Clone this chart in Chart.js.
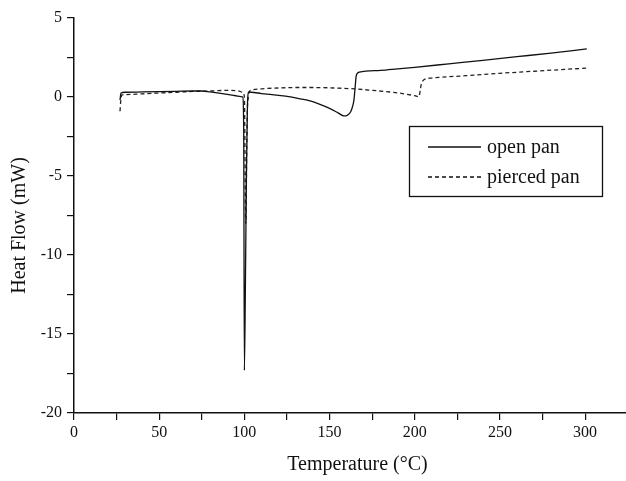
<!DOCTYPE html>
<html>
<head>
<meta charset="utf-8">
<script src="https://cdn.jsdelivr.net/npm/chart.js@4.4.1/dist/chart.umd.min.js"></script>
<style>
  html, body { margin: 0; padding: 0; background: #fff; }
</style>
</head>
<body>
<canvas id="dscChart" width="626" height="481"></canvas>
<script>
// DSC traces (temperature in degC, heat flow in mW)
const seriesNames = ['open pan', 'pierced pan'];

const openTemp = [27, 27.6, 30, 40, 50, 60, 70, 75, 80, 85, 90, 95, 98, 99.0, 99.6, 100.0,
  100.6, 101.2, 101.8, 102.6, 104, 110, 120, 126, 132, 138, 144, 150, 155, 158.5, 160.5,
  162.4, 163.5, 164.3, 165.0, 165.6, 166.3, 167.5, 180, 190, 200, 220, 240, 260, 280, 301];
const openFlow = [-0.2, 0.25, 0.3, 0.32, 0.34, 0.36, 0.38, 0.38, 0.32, 0.25, 0.17, 0.08, 0.03, 0.0, -2.0, -17.3,
  -12, -5, -0.5, 0.3, 0.3, 0.22, 0.1, 0.02, -0.1, -0.23, -0.45, -0.72, -1.0, -1.2, -1.15,
  -0.93, -0.6, -0.2, 0.6, 1.3, 1.5, 1.57, 1.68, 1.78, 1.88, 2.1, 2.32, 2.55, 2.78, 3.04];

const piercedTemp = [27, 27.4, 28, 30, 40, 50, 60, 70, 80, 90, 96, 99, 100, 100.8, 101.6, 102.4,
  103, 104.5, 108.6, 120, 130, 140, 150, 165, 175, 188.7, 195, 200, 202.5, 203.2, 203.8,
  205, 206.4, 210, 230, 250, 270, 290, 301];
const piercedFlow = [-0.9, -0.3, 0.12, 0.15, 0.2, 0.25, 0.3, 0.35, 0.38, 0.42, 0.4, 0.3, 0.0, -8, -1.5, 0.1,
  0.35, 0.45, 0.51, 0.57, 0.6, 0.6, 0.58, 0.51, 0.42, 0.28, 0.18, 0.08, 0.02, 0.4, 0.8,
  1.05, 1.15, 1.2, 1.35, 1.5, 1.63, 1.76, 1.83];

const xTickLabels = [0, 50, 100, 150, 200, 250, 300];
const yTickLabels = [5, 0, -5, -10, -15, -20];

const SERIF = '"Liberation Serif", "Times New Roman", serif';

function toPoints(xs, ys) {
  return xs.map((x, i) => ({ x: x, y: ys[i] }));
}

// boxed legend inside the plot, like the original figure
const boxLegend = {
  id: 'boxLegend',
  afterDraw(chart) {
    const ctx = chart.ctx;
    ctx.save();
    ctx.strokeStyle = '#111';
    ctx.lineWidth = 1.3;
    ctx.strokeRect(409.5, 126.5, 193, 70);
    ctx.font = '20px ' + SERIF;
    ctx.fillStyle = '#111';
    ctx.textBaseline = 'middle';
    chart.data.datasets.forEach((ds, i) => {
      const y = 147 + i * 30;
      ctx.beginPath();
      ctx.setLineDash(ds.borderDash || []);
      ctx.lineWidth = ds.borderWidth;
      ctx.moveTo(428, y);
      ctx.lineTo(481, y);
      ctx.stroke();
      ctx.setLineDash([]);
      ctx.fillText(ds.label, 487, y + 1);
    });
    ctx.restore();
  }
};

new Chart(document.getElementById('dscChart'), {
  type: 'line',
  data: {
    datasets: [{
      label: seriesNames[0],
      data: toPoints(openTemp, openFlow),
      borderColor: '#111',
      borderWidth: 1.3,
      pointRadius: 0,
      cubicInterpolationMode: 'monotone'
    }, {
      label: seriesNames[1],
      data: toPoints(piercedTemp, piercedFlow),
      borderColor: '#222',
      borderWidth: 1.3,
      borderDash: [4, 3],
      pointRadius: 0,
      cubicInterpolationMode: 'monotone'
    }]
  },
  options: {
    responsive: false,
    animation: false,
    devicePixelRatio: 1,
    layout: { padding: { top: 18, left: 0, right: 0, bottom: 0 } },
    plugins: {
      legend: { display: false },
      tooltip: { enabled: false }
    },
    scales: {
      x: {
        type: 'linear',
        min: 0,
        max: 324,
        afterFit: s => { s.height = 68; },
        border: { display: true, color: '#111', width: 1.5 },
        grid: { drawOnChartArea: false, drawTicks: true, tickLength: 7, color: '#111', lineWidth: 1.2 },
        ticks: {
          stepSize: 25,
          includeBounds: false,
          maxRotation: 0,
          autoSkip: false,
          padding: 3,
          color: '#111',
          font: { family: SERIF, size: 16 },
          callback: v => xTickLabels.includes(v) ? String(v) : ''
        },
        title: {
          display: true,
          // leading spaces nudge the centred title a little to the right
          text: '   Temperature (°C)',
          color: '#111',
          font: { family: SERIF, size: 20 },
          padding: { top: 0, bottom: 4 }
        }
      },
      y: {
        type: 'linear',
        min: -20,
        max: 5,
        afterFit: s => { s.width = 74; },
        border: { display: true, color: '#111', width: 1.5 },
        grid: { drawOnChartArea: false, drawTicks: true, tickLength: 7, color: '#111', lineWidth: 1.2 },
        ticks: {
          stepSize: 2.5,
          autoSkip: false,
          padding: 5,
          color: '#111',
          font: { family: SERIF, size: 16 },
          callback: v => yTickLabels.includes(v) ? String(v) : ''
        },
        title: {
          display: true,
          // trailing spaces push the rotated title down a bit, as in the figure
          text: 'Heat Flow (mW)    ',
          color: '#111',
          font: { family: SERIF, size: 20 },
          padding: { top: 8, bottom: 0 }
        }
      }
    }
  },
  plugins: [boxLegend]
});
</script>
</body>
</html>
